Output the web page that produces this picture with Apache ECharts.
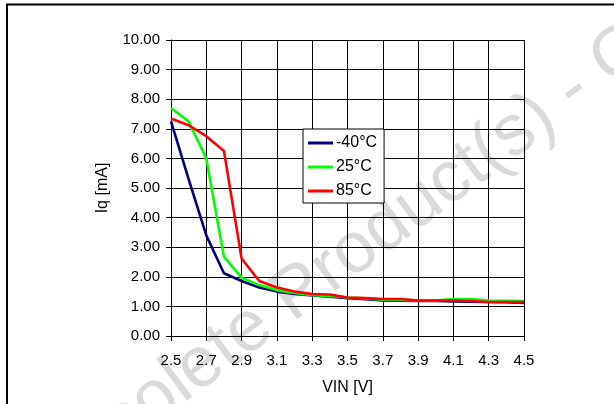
<!DOCTYPE html>
<html>
<head>
<meta charset="utf-8">
<script src="https://cdn.jsdelivr.net/npm/echarts@6/dist/echarts.min.js"></script>
<style>
html,body{margin:0;padding:0;background:#fff;}
#chart{width:614px;height:404px;}
</style>
</head>
<body>
<div id="chart"></div>
<script>
var vin = [2.5, 2.6, 2.7, 2.8, 2.9, 3.0, 3.1, 3.2, 3.3, 3.4, 3.5, 3.6, 3.7, 3.8, 3.9, 4.0, 4.1, 4.2, 4.3, 4.4, 4.5];
var iqMinus40 = [7.25, 5.3, 3.4, 2.12, 1.86, 1.64, 1.5, 1.42, 1.37, 1.33, 1.28, 1.24, 1.2, 1.19, 1.18, 1.18, 1.17, 1.16, 1.15, 1.14, 1.12];
var iq25 = [7.7, 7.25, 6.0, 2.68, 1.97, 1.72, 1.55, 1.45, 1.38, 1.35, 1.3, 1.27, 1.23, 1.22, 1.2, 1.2, 1.25, 1.25, 1.2, 1.19, 1.18];
var iq85 = [7.35, 7.12, 6.75, 6.25, 2.62, 1.86, 1.64, 1.5, 1.42, 1.4, 1.3, 1.28, 1.25, 1.25, 1.2, 1.2, 1.2, 1.18, 1.15, 1.15, 1.15];
var seriesNames = ['-40°C', '25°C', '85°C'];
var seriesColors = ['#000080', '#00ff00', '#ff0000'];
var xAxisTitle = 'VIN [V]';
var yAxisTitle = 'Iq [mA]';
var watermark = 'Obsolete Product(s) - Obsolete Product(s)';

function pairs(ys) { return vin.map(function (x, i) { return [x, ys[i]]; }); }

var FONT = 'Liberation Sans';
var chart = echarts.init(document.getElementById('chart'), null, {renderer: 'canvas'});
var dataSets = [iqMinus40, iq25, iq85];

chart.setOption({
  animation: false,
  backgroundColor: '#fff',
  graphic: [
    {
      type: 'text', z: -10, x: 33, y: 490, rotation: 36.5 * Math.PI / 180,
      style: { text: watermark, fontSize: 72, fontFamily: FONT, fill: '#dadada', verticalAlign: 'middle', align: 'left' }
    },
    {
      type: 'rect', z: 100, shape: { x: 7, y: 4.5, width: 800, height: 600 },
      style: { fill: 'none', stroke: '#000', lineWidth: 2 }
    }
  ],
  grid: { left: 171, top: 40, right: 90, bottom: 68, containLabel: false },
  legend: {
    orient: 'vertical', left: 303, top: 129,
    backgroundColor: '#fff', borderColor: '#000', borderWidth: 1,
    padding: [6, 7, 4, 5], itemGap: 8, itemWidth: 25, itemHeight: 3,
    icon: 'rect',
    textStyle: { fontFamily: FONT, fontSize: 16, color: '#000', padding: [0, 0, 0, -2] },
    data: seriesNames
  },
  xAxis: {
    type: 'value', min: 2.5, max: 4.5, interval: 0.2,
    name: xAxisTitle, nameLocation: 'middle', nameGap: 44,
    nameTextStyle: { fontFamily: FONT, fontSize: 16, color: '#000' },
    axisLine: { show: true, lineStyle: { color: '#000', width: 1 } },
    axisTick: { show: true, inside: false, length: 5, lineStyle: { color: '#000' } },
    axisLabel: { fontFamily: FONT, fontSize: 15, color: '#000', margin: 17,
      formatter: function (v) { return v.toFixed(1); } },
    splitLine: { show: true, lineStyle: { color: '#000', width: 1 } }
  },
  yAxis: {
    type: 'value', min: 0, max: 10, interval: 1,
    name: yAxisTitle, nameLocation: 'middle', nameGap: 60, nameRotate: 90,
    nameTextStyle: { fontFamily: FONT, fontSize: 16, color: '#000' },
    axisLine: { show: true, lineStyle: { color: '#000', width: 1 } },
    axisTick: { show: true, inside: false, length: 5, lineStyle: { color: '#000' } },
    axisLabel: { fontFamily: FONT, fontSize: 15, color: '#000', margin: 11,
      formatter: function (v) { return v.toFixed(2); } },
    splitLine: { show: true, lineStyle: { color: '#000', width: 1 } }
  },
  series: dataSets.map(function (d, i) {
    return {
      name: seriesNames[i], type: 'line', data: pairs(d),
      showSymbol: false, symbol: 'none', smooth: false,
      color: seriesColors[i],
      lineStyle: { color: seriesColors[i], width: 2.6 },
      z: 3 + i
    };
  })
});
</script>
</body>
</html>
